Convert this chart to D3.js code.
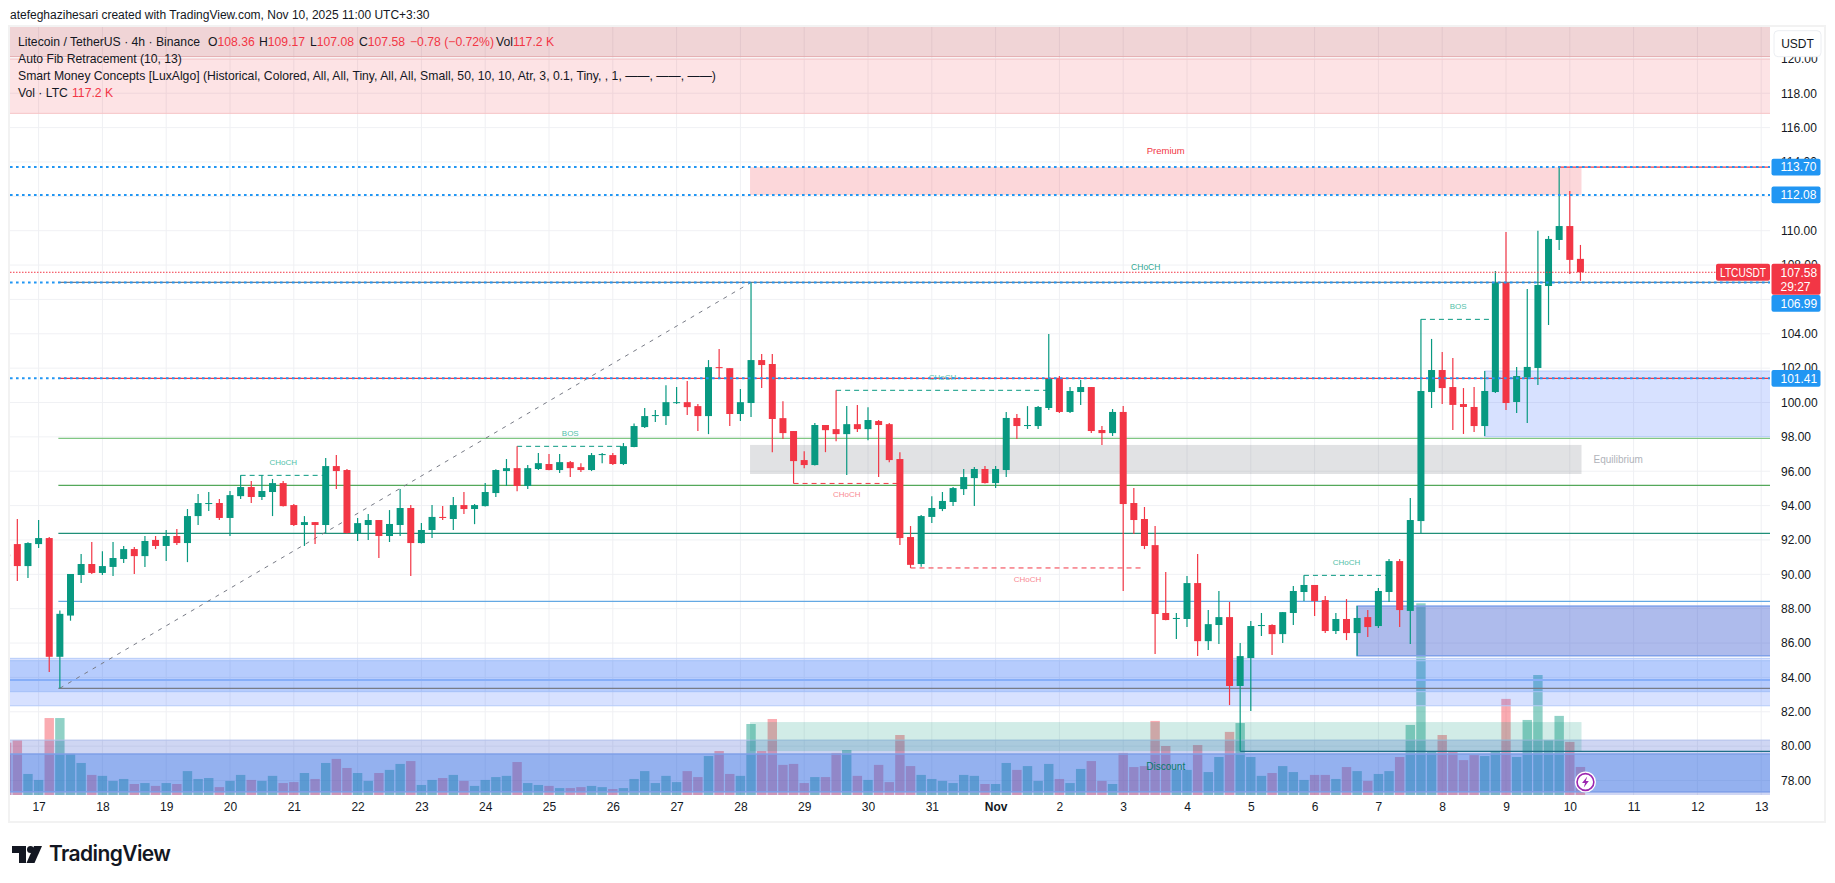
<!DOCTYPE html>
<html>
<head>
<meta charset="utf-8">
<script src="https://cdn.jsdelivr.net/npm/d3@7"></script>
<style>
  html, body { margin: 0; padding: 0; background: #fff; }
  text { font-family: "Liberation Sans", Arial, sans-serif; }
</style>
</head>
<body>
<div id="chart"></div>
<script>
// LTC/USDT 4h bars, first bar sits 3 bars before the 17 Oct tick
const firstBar = -3;
const opens = [
  91.15,91.76,90.48,91.76,92.11,85.2,87.6,89.96,90.6,90.08,
  90.43,90.89,91.47,91.06,92.0,91.65,92.23,91.82,93.39,94.09,
  94.15,93.28,94.55,95.08,94.5,94.79,95.31,94.03,92.87,93.04,
  92.87,96.3,96.07,92.4,92.87,93.16,92.23,92.87,93.86,91.82,
  92.58,93.34,93.22,94.03,93.8,93.97,94.73,96.01,96.18,95.14,
  96.13,96.42,96.07,96.53,96.24,96.07,96.94,96.94,96.42,97.41,
  98.57,99.21,99.21,99.97,100.02,99.79,99.21,102.06,102.0,99.33,
  99.97,102.47,102.24,99.09,98.34,96.65,96.36,98.69,98.45,98.16,
  98.74,98.45,98.92,98.74,96.71,92.17,90.6,93.34,93.8,94.21,
  94.96,95.6,96.13,95.31,96.07,99.1,98.63,98.63,99.68,101.42,
  99.45,100.61,100.9,98.4,98.22,99.45,94.15,93.22,91.7,87.75,
  87.4,87.4,89.49,86.11,87.05,87.51,83.5,85.13,86.99,87.05,
  86.52,87.75,88.97,89.38,88.5,86.7,87.4,86.58,87.51,86.99,
  88.97,90.77,87.87,93.1,100.61,101.89,100.9,99.91,99.74,98.63,
  100.61,106.96,100.03,101.46,102.01,106.78,109.46,110.27,108.36
];
const highs = [
  91.5,93.22,91.86,93.16,92.17,87.9,90.02,91.18,91.88,91.35,
  91.88,91.65,91.59,92.23,92.23,92.58,92.64,93.8,94.67,94.79,
  94.38,94.85,95.76,95.43,95.76,95.55,95.43,94.09,93.39,93.04,
  96.77,96.94,96.13,93.28,93.51,93.16,93.74,94.96,94.03,92.98,
  94.03,93.97,94.5,94.79,94.09,95.31,96.12,96.71,97.46,96.36,
  97.06,97.0,97.0,96.59,96.47,97.06,97.06,97.06,97.64,98.78,
  99.68,99.56,101.01,100.9,101.25,99.91,102.47,103.11,102.0,100.78,
  106.99,102.82,102.82,100.08,98.34,97.17,98.8,98.69,100.72,99.79,
  99.85,99.73,98.98,98.8,97.11,92.81,93.45,94.55,94.79,95.08,
  96.13,96.24,96.3,96.3,99.45,99.33,99.79,99.79,103.99,101.54,
  100.9,101.31,100.9,98.63,99.62,99.79,95.02,93.92,92.81,90.13,
  87.75,89.9,91.18,87.92,89.03,88.39,86.0,87.28,87.75,87.1,
  87.8,89.32,89.94,89.38,88.74,87.75,88.56,88.15,87.92,89.2,
  90.89,90.89,94.44,104.84,103.7,102.94,102.59,100.84,100.9,101.83,
  107.65,109.92,102.07,106.61,110.0,109.69,113.7,112.31,109.17
];
const lows = [
  90.6,89.61,89.78,91.53,84.31,83.37,87.3,89.49,90.02,89.96,
  89.9,90.66,90.02,90.43,91.47,90.77,91.7,90.71,92.87,93.68,
  93.16,92.23,94.38,94.15,94.32,93.39,93.95,92.81,91.65,91.76,
  92.4,94.96,92.38,91.94,92.0,90.95,91.88,92.23,89.9,91.8,
  92.11,93.16,92.58,93.51,92.92,93.95,94.5,95.14,94.84,94.96,
  96.07,96.05,95.89,95.66,95.95,96.01,96.47,96.36,96.36,97.39,
  98.51,98.86,98.69,99.91,99.27,98.34,98.16,101.42,98.63,98.92,
  99.15,100.84,97.11,97.87,95.29,96.18,96.34,97.11,97.75,95.78,
  98.28,97.81,95.66,96.53,91.7,90.37,90.44,92.98,93.68,93.97,
  94.61,93.97,95.29,95.02,95.66,97.87,98.46,98.46,99.56,99.39,
  99.39,99.85,98.22,97.53,98.05,89.03,92.35,91.47,85.36,87.32,
  86.23,86.93,85.24,85.59,85.94,82.39,79.7,82.05,86.41,85.3,
  86.0,87.05,88.45,87.57,86.58,86.52,86.17,85.26,86.35,86.87,
  88.39,86.93,85.95,92.38,99.68,99.91,98.4,98.17,98.28,98.05,
  100.55,99.56,99.39,98.81,101.02,104.51,108.88,107.48,107.08
];
const closes = [
  91.05,90.48,91.82,92.11,85.2,87.7,90.02,90.6,90.08,90.48,
  90.95,91.47,91.06,91.94,91.65,92.23,91.82,93.39,94.15,94.15,
  93.28,94.61,95.08,94.5,94.85,95.31,93.97,92.87,93.04,92.87,
  96.3,96.01,92.4,92.98,93.16,92.23,92.93,93.86,91.82,92.58,
  93.34,93.28,94.03,93.8,94.03,94.79,96.07,96.18,95.14,96.18,
  96.47,96.07,96.53,96.18,96.07,96.94,97.0,96.42,97.46,98.63,
  99.21,99.27,100.02,100.02,99.73,99.21,102.06,102.0,99.33,100.02,
  102.47,102.18,99.04,98.22,96.59,96.36,98.69,98.39,98.16,98.74,
  98.45,98.98,98.69,96.65,92.11,90.55,93.39,93.86,94.27,95.02,
  95.66,96.13,95.31,96.13,99.1,98.63,98.69,99.74,101.37,99.45,
  100.67,100.9,98.34,98.22,99.45,94.09,93.16,91.65,87.69,87.34,
  87.46,89.49,86.11,87.1,87.51,83.5,85.24,86.99,87.05,86.52,
  87.8,89.03,89.38,88.45,86.7,87.4,86.58,87.46,86.93,89.03,
  90.77,87.92,93.16,100.67,101.89,100.84,99.86,99.74,98.63,100.67,
  106.96,99.97,101.54,102.07,106.84,109.52,110.27,108.3,107.58
];
// volume in thousands of LTC
const volumes = [
  219,230,88,63,322,322,172,134,84,80,
  59,67,46,50,38,50,46,100,67,71,
  33,59,84,63,59,80,50,54,92,67,
  134,151,113,92,59,92,105,130,142,42,
  63,71,84,59,38,63,75,80,138,50,
  42,38,29,29,33,38,33,25,29,67,
  100,50,80,54,100,75,163,184,88,80,
  297,184,318,126,130,50,75,75,176,188,
  80,63,126,54,251,121,84,67,59,50,
  84,80,46,46,134,105,121,59,130,67,
  50,109,142,59,46,176,117,121,310,205,
  105,105,209,96,159,264,301,159,80,92,
  121,96,63,84,84,67,117,100,59,88,
  100,159,293,802,180,251,180,146,167,163,
  180,402,159,314,502,230,331,222,117.2
];

// axes
const priceTicks = [78,80,82,84,86,88,90,92,94,96,98,100,102,104,106,108,110,112,114,116,118,120];
const dayLabels = ["17","18","19","20","21","22","23","24","25","26","27","28","29","30","31",
  "Nov","2","3","4","5","6","7","8","9","10","11","12","13"];

// horizontal levels
const fibPrices = [106.99,101.41,97.91,95.18,92.38,88.43,83.36];
const alertPrices = [113.70,112.08,106.99,101.41];
const swingHigh = 113.70, swingHighBar = 143;
const swingLow = 79.70, swingLowBar = 113;
const lastPrice = 107.58;
const fibFrom = [2, 83.37], fibTo = [67, 106.99];

// smart money structure: start bar, end bar, price, label
const structStart = [19,45,71,75,82,119,130];
const structEnd   = [27,55,81,95,104,127,137];
const structPrice = [95.76,97.45,95.29,100.71,90.37,89.94,104.84];
const structLabel = ["CHoCH","BOS","CHoCH","CHoCH","CHoCH","CHoCH","BOS"];
const structBull  = [true,true,false,true,false,true,true];

// premium / equilibrium / discount ranges
const premiumRange = [113.70,112.08];
const equilibriumRange = [97.53,95.84];
const discountRange = [81.40,79.71];
const rangeBars = [67,145.1];

// order blocks
const topDark = [122.5,120.13];
const topPale = [119.99,116.83];
const blueWide = [85.11,82.35];
const blueWideInner = [84.97,83.17];
const blueWideMid = 83.85;
const blueRight = [101.83,98.01], blueRightBar = 136;
const blueDeep = [88.15,85.26], blueDeepBar = 124;
const bottomPale = [80.35,76];
const bottomDeep = [79.54,77.34];

const W = 1835, H = 883;
const L = 10, R = 1770, T = 27, B = 795;
const RED = "#f23645", GREEN = "#089981", BLUE = "#2196f3";

const day = 864e5, bar4h = day / 6;
const t0 = Date.UTC(2025, 9, 17);
const barTime = (i) => new Date(t0 + i * bar4h);
const dayTicks = dayLabels.map((d, i) => new Date(t0 + i * day));

const x = d3.scaleUtc().domain([dayTicks[0], dayTicks[27]]).range([38.6, 1761.2]);
const y = d3.scaleLinear().domain([78, 116]).range([780.5, 127.6]);
const yVol = d3.scaleLinear().domain([0, 802]).range([B, 603.3]);
const xb = (i) => x(barTime(i));

const bars = opens.map((o, k) => ({
  i: k + firstBar, o, h: highs[k], l: lows[k], c: closes[k], v: volumes[k],
  up: closes[k] >= o
}));

const svg = d3.select("#chart").append("svg")
  .attr("width", W).attr("height", H).style("display", "block");

svg.append("text").attr("x", 10).attr("y", 19)
  .attr("font-size", 12).attr("fill", "#131722")
  .text("atefeghazihesari created with TradingView.com, Nov 10, 2025 11:00 UTC+3:30");

// frame
svg.append("rect").attr("x", 9).attr("y", 26).attr("width", 1816).attr("height", 796)
  .attr("fill", "#fff").attr("stroke", "#f2f2f2").attr("stroke-width", 2);

svg.append("clipPath").attr("id", "plot").append("rect")
  .attr("x", L).attr("y", T).attr("width", R - L).attr("height", B - T);

const plot = svg.append("g").attr("clip-path", "url(#plot)");

// grid
plot.append("g").selectAll("line").data(priceTicks).join("line")
  .attr("x1", L).attr("x2", R).attr("y1", y).attr("y2", y)
  .attr("stroke", "#f0f1f4").attr("stroke-width", 1);
plot.append("g").selectAll("line").data(dayTicks).join("line")
  .attr("x1", x).attr("x2", x).attr("y1", T).attr("y2", B)
  .attr("stroke", "#eff0f3").attr("stroke-width", 1);

// volume
plot.append("g").selectAll("rect").data(bars).join("rect")
  .attr("x", (d) => xb(d.i) - 4.7).attr("width", 9.4)
  .attr("y", (d) => yVol(d.v)).attr("height", (d) => B - yVol(d.v))
  .attr("fill", (d) => d.up ? "rgba(8,153,129,.45)" : "rgba(242,54,69,.42)");

function zone(range, x0, x1, fill, stroke, sw) {
  plot.append("rect")
    .attr("x", x0).attr("width", x1 - x0)
    .attr("y", y(range[0])).attr("height", y(range[1]) - y(range[0]))
    .attr("fill", fill)
    .attr("stroke", stroke || "none").attr("stroke-width", sw || 1);
}

// boxes
zone(topPale, -5, R + 5, "rgba(242,54,69,.14)", "#f6c4c6", 1);
zone(topDark, -5, R + 5, "rgba(180,40,50,.2)", "#e3a9ac", 1);
zone(blueWide, -5, R + 5, "rgba(41,98,255,.19)", "#b5cbf9", 1);
zone(blueWideInner, -5, R + 5, "rgba(33,110,243,.18)", "#a4c0f8", 1);
plot.append("line").attr("x1", L).attr("x2", R)
  .attr("y1", y(blueWideMid)).attr("y2", y(blueWideMid))
  .attr("stroke", "#86aef8").attr("stroke-width", 2);
zone(blueRight, xb(blueRightBar), R + 5, "rgba(41,98,255,.19)", "#b5cbf9", 1);
zone(blueDeep, xb(blueDeepBar), R + 5, "rgba(41,75,205,.38)", "#7f9fe8", 1.5);
zone(bottomPale, -5, R + 5, "rgba(55,85,205,.24)", "#b1bfea", 1);
zone(bottomDeep, -5, R + 5, "rgba(38,108,231,.35)", "#7f9fe8", 1.5);

const rx0 = xb(rangeBars[0]) - 1, rx1 = xb(rangeBars[1]);
zone(premiumRange, rx0, rx1, "rgba(242,54,69,.2)");
zone(equilibriumRange, rx0, rx1, "rgba(120,123,134,.22)");
zone(discountRange, rx0, rx1, "rgba(8,153,129,.19)");

// fib levels
const fibColors = ["#787b86", RED, "#81c784", "#54a85a", "#1f8f78", "#64a8e3", "#787b86"];
plot.append("g").selectAll("line").data(fibPrices).join("line")
  .attr("x1", xb(2) - 1.5).attr("x2", R)
  .attr("y1", y).attr("y2", y)
  .attr("stroke", (d, k) => fibColors[k]).attr("stroke-width", 1.2);
plot.append("line")
  .attr("x1", xb(fibFrom[0])).attr("y1", y(fibFrom[1]))
  .attr("x2", xb(fibTo[0])).attr("y2", y(fibTo[1]))
  .attr("stroke", "#787b86").attr("stroke-width", 1).attr("stroke-dasharray", "4 5.5");

// swing high / low
plot.append("line").attr("x1", xb(swingHighBar)).attr("x2", R)
  .attr("y1", y(swingHigh)).attr("y2", y(swingHigh))
  .attr("stroke", RED).attr("stroke-width", 1.2);
plot.append("line").attr("x1", xb(swingLowBar)).attr("x2", R)
  .attr("y1", y(swingLow)).attr("y2", y(swingLow))
  .attr("stroke", "#1f6f88").attr("stroke-width", 1.2);

// structure
const structs = structStart.map((s, k) => ({
  s, e: structEnd[k], p: structPrice[k], label: structLabel[k], bull: structBull[k]
}));
plot.append("g").selectAll("line").data(structs).join("line")
  .attr("x1", (d) => xb(d.s)).attr("x2", (d) => xb(d.e))
  .attr("y1", (d) => y(d.p)).attr("y2", (d) => y(d.p))
  .attr("stroke", (d) => d.bull ? GREEN : RED)
  .attr("stroke-width", 1).attr("stroke-dasharray", "5 4");
plot.append("g").selectAll("text").data(structs).join("text")
  .attr("x", (d) => (xb(d.s) + xb(d.e)) / 2)
  .attr("y", (d) => y(d.p) + (d.bull ? -13 : 11))
  .attr("dy", "0.35em").attr("text-anchor", "middle").attr("font-size", 8)
  .attr("fill", (d) => d.bull ? "#52bfa9" : "#f98a93")
  .text((d) => d.label);

// candles
const candles = plot.append("g").selectAll("g").data(bars).join("g");
candles.append("line")
  .attr("x1", (d) => xb(d.i)).attr("x2", (d) => xb(d.i))
  .attr("y1", (d) => y(d.h)).attr("y2", (d) => y(d.l))
  .attr("stroke", (d) => d.up ? GREEN : RED).attr("stroke-width", 1.2);
candles.append("rect")
  .attr("x", (d) => xb(d.i) - 3.5).attr("width", 7)
  .attr("y", (d) => y(Math.max(d.o, d.c)))
  .attr("height", (d) => Math.max(1, Math.abs(y(d.o) - y(d.c))))
  .attr("fill", (d) => d.up ? GREEN : RED);

// dotted alert lines and last price line
plot.append("g").selectAll("line").data(alertPrices).join("line")
  .attr("x1", L).attr("x2", R).attr("y1", y).attr("y2", y)
  .attr("stroke", BLUE).attr("stroke-width", 2).attr("stroke-dasharray", "2.6 3.4");
plot.append("line").attr("x1", L).attr("x2", R)
  .attr("y1", y(lastPrice)).attr("y2", y(lastPrice))
  .attr("stroke", RED).attr("stroke-width", 1).attr("stroke-dasharray", "1.5 1.5");

// range captions
plot.append("text").attr("x", (rx0 + rx1) / 2).attr("y", y(swingHigh) - 16)
  .attr("dy", "0.35em").attr("text-anchor", "middle").attr("font-size", 9.5)
  .attr("fill", RED).text("Premium");
plot.append("text").attr("x", (rx0 + rx1) / 2 - 20).attr("y", y(106.99) - 15)
  .attr("dy", "0.35em").attr("text-anchor", "middle").attr("font-size", 8.5)
  .attr("fill", "#2fa892").text("CHoCH");
plot.append("text").attr("x", rx1 + 12).attr("y", y((equilibriumRange[0] + equilibriumRange[1]) / 2))
  .attr("dy", "0.35em").attr("font-size", 10).attr("fill", "#b0b3ba").text("Equilibrium");
plot.append("text").attr("x", (rx0 + rx1) / 2).attr("y", 766.7)
  .attr("dy", "0.35em").attr("text-anchor", "middle").attr("font-size", 10)
  .attr("fill", "#067a68").text("Discount");

// lightning mark on the last bar
const flash = plot.append("g").attr("transform", `translate(${xb(145) + 5},782)`);
flash.append("circle").attr("r", 9.6).attr("fill", "#fff").attr("stroke", "#fff").attr("stroke-width", 2);
flash.append("circle").attr("r", 8.4).attr("fill", "#fff").attr("stroke", "#9c27b0").attr("stroke-width", 1.6);
flash.append("path").attr("d", "M1.8,-5.5 L-3.4,0.9 L-0.4,0.9 L-1.6,5.5 L3.4,-1.1 L0.4,-1.1 Z").attr("fill", "#9c27b0");

// legend
const legend = svg.append("g").attr("font-size", 12.2).attr("fill", "#131722");
const row1 = legend.append("text").attr("y", 46);
row1.append("tspan").attr("x", 18).text("Litecoin / TetherUS · 4h · Binance");
[[208, "O", "108.36"], [259, "H", "109.17"], [310, "L", "107.08"], [359, "C", "107.58"]].forEach((e) => {
  row1.append("tspan").attr("x", e[0]).text(e[1]);
  row1.append("tspan").attr("fill", RED).text(e[2]);
});
row1.append("tspan").attr("x", 410).attr("fill", RED).text("−0.78 (−0.72%)");
row1.append("tspan").attr("x", 496).text("Vol");
row1.append("tspan").attr("fill", RED).text("117.2 K");
legend.append("text").attr("x", 18).attr("y", 63).text("Auto Fib Retracement (10, 13)");
legend.append("text").attr("x", 18).attr("y", 80)
  .text("Smart Money Concepts [LuxAlgo] (Historical, Colored, All, All, Tiny, All, All, Small, 50, 10, 10, Atr, 3, 0.1, Tiny, , 1, ——, ——, ——)");
const row4 = legend.append("text").attr("y", 97);
row4.append("tspan").attr("x", 18).text("Vol · LTC");
row4.append("tspan").attr("x", 72).attr("fill", RED).text("117.2 K");

// price axis
const yAxis = svg.append("g").attr("transform", `translate(${R},0)`)
  .call(d3.axisRight(y).tickValues(priceTicks).tickFormat(d3.format(".2f")).tickSize(0).tickPadding(11));
yAxis.select(".domain").remove();
yAxis.selectAll("text").attr("font-size", 12).attr("font-family", "Liberation Sans").attr("fill", "#131722");

// time axis
const xAxis = svg.append("g").attr("transform", `translate(0,${B})`)
  .call(d3.axisBottom(x).tickValues(dayTicks).tickFormat((d, k) => dayLabels[k]).tickSize(0).tickPadding(7));
xAxis.select(".domain").remove();
xAxis.selectAll("text").attr("font-size", 12).attr("font-family", "Liberation Sans").attr("fill", "#131722")
  .attr("font-weight", (d, k) => dayLabels[k] === "Nov" ? 700 : 400);

// price tags, 106.99 gets pushed under the last price tag
const tagX = 1771.5, tagW = 49, tagH = 16.8;
const tagY = (p) => p === 106.99 ? y(lastPrice) + 31.2 : y(p);
const tags = svg.append("g").selectAll("g").data(alertPrices).join("g")
  .attr("transform", (d) => `translate(${tagX},${tagY(d)})`);
tags.append("rect").attr("y", -tagH / 2).attr("width", tagW).attr("height", tagH).attr("rx", 2).attr("fill", BLUE);
tags.append("text").attr("x", 9).attr("dy", "0.36em").attr("font-size", 12).attr("fill", "#fff")
  .text((d) => d3.format(".2f")(d));

const last = svg.append("g").attr("transform", `translate(${tagX},${y(lastPrice)})`);
last.append("rect").attr("y", -8.4).attr("width", tagW).attr("height", 31).attr("rx", 2).attr("fill", RED);
last.append("text").attr("x", 9).attr("dy", "0.36em").attr("font-size", 12).attr("fill", "#fff").text("107.58");
last.append("text").attr("x", 9).attr("y", 14.3).attr("dy", "0.36em").attr("font-size", 12).attr("fill", "#fff").text("29:27");
svg.append("rect").attr("x", 1716).attr("y", y(lastPrice) - 8.4).attr("width", 54).attr("height", 16.8).attr("rx", 2).attr("fill", RED);
svg.append("text").attr("x", 1720).attr("y", y(lastPrice)).attr("dy", "0.36em")
  .attr("font-size", 12).attr("textLength", 46).attr("lengthAdjust", "spacingAndGlyphs")
  .attr("fill", "#fff").text("LTCUSDT");

// currency button
svg.append("rect").attr("x", 1774).attr("y", 30.7).attr("width", 47).attr("height", 26).attr("rx", 4)
  .attr("fill", "#fff").attr("stroke", "#eceef2");
svg.append("text").attr("x", 1797.5).attr("y", 44).attr("dy", "0.35em").attr("text-anchor", "middle")
  .attr("font-size", 12).attr("fill", "#131722").text("USDT");

// TradingView logo
const logo = svg.append("g").attr("fill", "#131722");
logo.append("path").attr("d", "M12,846 H26 V863 H19 V853 H12 Z");
logo.append("circle").attr("cx", 30.5).attr("cy", 849.5).attr("r", 3.5);
logo.append("path").attr("d", "M34,846 H42 L34.5,863 H26.5 Z");
logo.append("text").attr("x", 49).attr("y", 861).attr("font-size", 21).attr("font-weight", 600)
  .style("font-family", "Inter").attr("letter-spacing", -0.6).text("TradingView");
</script>
</body>
</html>
